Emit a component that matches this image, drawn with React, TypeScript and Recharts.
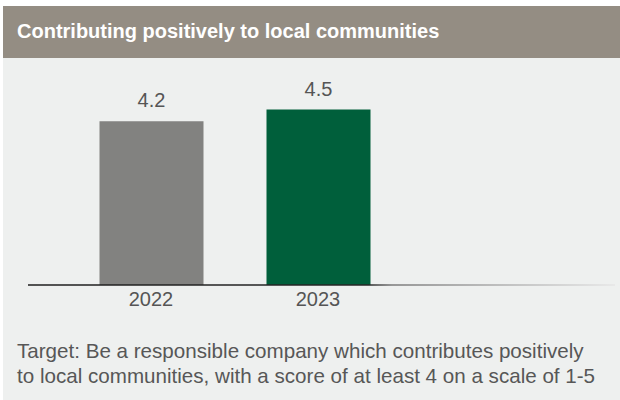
import React from "react";
import {BarChart, XAxis, YAxis, Bar, Cell, LabelList} from 'recharts';

const years = ['2022', '2023'];
const scores = [4.2, 4.5];
const barColors = ['#828280', '#005f3b'];

const title = 'Contributing positively to local communities';
const noteLines = [
    'Target: Be a responsible company which contributes positively',
    'to local communities, with a score of at least 4 on a scale of 1-5',
];

const font = '"Liberation Sans", Arial, Helvetica, sans-serif';

const App = () => {
    const data = years.map((y, i) => ({year: y, score: scores[i]}));

    return (
        <div style={{position: 'absolute', left: 0, top: 0, width: 620, height: 400, background: '#fff', fontFamily: font}}>
            {/* panel + header band */}
            <div style={{position: 'absolute', left: 3, top: 58, width: 617, height: 342, background: '#eef0ef'}}/>
            <div style={{position: 'absolute', left: 3, top: 6, width: 617, height: 52, background: '#948d83'}}/>
            <div style={{position: 'absolute', left: 17, top: 21, fontSize: 20, lineHeight: '20px', fontWeight: 'bold', color: '#fff', whiteSpace: 'nowrap'}}>
                {title}
            </div>

            <div style={{position: 'absolute', left: 0, top: 0}}>
                <BarChart width={620} height={400} data={data}
                          margin={{top: 90, right: 5, left: 28, bottom: 85}}>
                    <defs>
                        <linearGradient id="axisFade" gradientUnits="userSpaceOnUse" x1={28} y1={0} x2={615} y2={0}>
                            <stop offset="0" stopColor="#1e1e1e"/>
                            <stop offset="0.58" stopColor="#262626"/>
                            <stop offset="0.62" stopColor="#7a7a7a"/>
                            <stop offset="1" stopColor="#e6e6e6"/>
                        </linearGradient>
                    </defs>
                    <XAxis dataKey="year" height={30} padding={{left: 39.5, right: 213.5}}
                           axisLine={{stroke: 'url(#axisFade)', strokeWidth: 1.5}}
                           tickLine={false} tickSize={0} tickMargin={7}
                           tick={{fill: '#555', fontSize: 20, fontFamily: font}}/>
                    <YAxis hide domain={[0, 5]}/>
                    <Bar dataKey="score" barSize={104} isAnimationActive={false}>
                        {data.map((d, i) => <Cell key={d.year} fill={barColors[i]}/>)}
                        <LabelList dataKey="score" position="top" offset={14}
                                   style={{fill: '#555', fontSize: 20, fontFamily: font}}/>
                    </Bar>
                </BarChart>
            </div>

            <div style={{position: 'absolute', left: 17, top: 338, fontSize: 20.6, lineHeight: '25px', color: '#575757', whiteSpace: 'nowrap'}}>
                {noteLines.map(l => <div key={l}>{l}</div>)}
            </div>
        </div>
    );
}

export default App;
